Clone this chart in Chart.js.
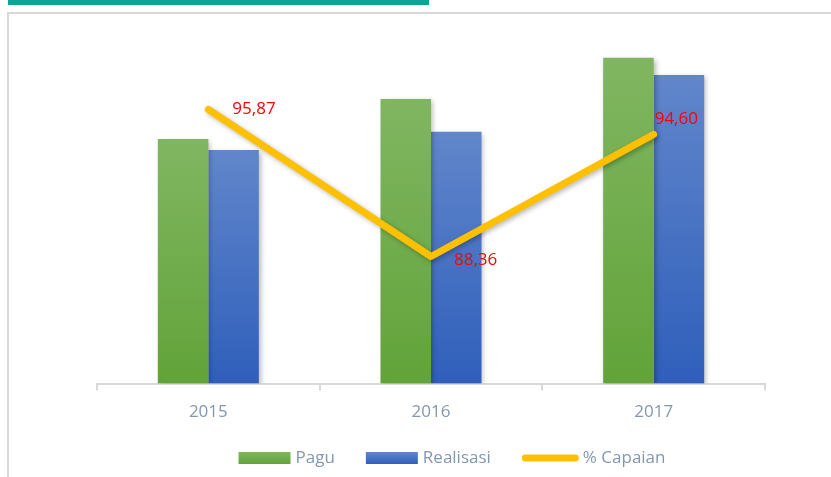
<!DOCTYPE html>
<html>
<head>
<meta charset="utf-8">
<script src="https://cdn.jsdelivr.net/npm/chart.js@4.4.1/dist/chart.umd.min.js"></script>
<style>
  html, body { margin: 0; padding: 0; background: #fff; overflow: hidden; }
  #wrap { position: relative; width: 831px; height: 477px; overflow: hidden; }
  #topbar { position: absolute; left: 8px; top: 0; width: 421px; height: 5px; background: #0ca494; }
  #frame { position: absolute; left: 7px; top: 12px; width: 900px; height: 600px; border: 2px solid #d9d9d9; }
  canvas { position: absolute; left: 0; top: 0; }
</style>
</head>
<body>
<div id="wrap">
  <div id="topbar"></div>
  <div id="frame"></div>
  <canvas id="chart" width="831" height="477" style="width:831px;height:477px"></canvas>
</div>
<script>
const years = ["2015", "2016", "2017"];
const pagu = [7.12, 8.28, 9.48];
const realisasi = [6.80, 7.33, 8.98];
const capaian = [95.87, 88.36, 94.60];

// label offsets from each line point (px): [dx, dy]
const labelOffsets = [[24, 0], [23, 4], [1, -15]];

const textColor = "#8497b0";
const fontFamily = "'Open Sans', 'Noto Sans', sans-serif";

function barFill(top, bottom) {
    return function (c) {
        const chart = c.chart;
        if (!chart.chartArea || c.type !== "data" || !chart.scales.y) return bottom;
        const y = chart.scales.y;
        const g = chart.ctx.createLinearGradient(0, y.getPixelForValue(c.raw), 0, y.getPixelForValue(0));
        g.addColorStop(0, top);
        g.addColorStop(1, bottom);
        return g;
    };
}

const shadowPlugin = {
    id: "shadow",
    beforeDatasetDraw(chart) {
        const c = chart.ctx;
        c.save();
        c.shadowColor = "rgba(0,0,0,0.28)";
        c.shadowBlur = 5;
        c.shadowOffsetX = 2;
        c.shadowOffsetY = 2;
    },
    afterDatasetDraw(chart) {
        chart.ctx.restore();
    }
};

const valueLabels = {
    id: "valueLabels",
    afterDatasetsDraw(chart) {
        const c = chart.ctx;
        const meta = chart.getDatasetMeta(2);
        c.save();
        c.font = "17px " + fontFamily;
        c.fillStyle = "#ff0000";
        c.textBaseline = "middle";
        c.textAlign = "left";
        meta.data.forEach((pt, i) => {
            const txt = capaian[i].toFixed(2).replace(".", ",");
            c.fillText(txt, pt.x + labelOffsets[i][0], pt.y + labelOffsets[i][1]);
        });
        c.restore();
    }
};

const customLegend = {
    id: "customLegend",
    afterDraw(chart) {
        const c = chart.ctx;
        c.save();
        c.font = "17px " + fontFamily;
        c.textBaseline = "middle";
        const y = 458;
        const items = chart.data.datasets.map(ds => ({
            label: ds.label,
            isLine: ds.type === "line",
            color: ds.legendColor
        }));
        const boxW = 52, lineW = 57, gap = 31;
        let total = 0;
        items.forEach((it, i) => {
            total += (it.isLine ? lineW + 4 : boxW + 5) + c.measureText(it.label).width;
            if (i < items.length - 1) total += gap;
        });
        let x = 452 - total / 2;
        items.forEach(it => {
            if (it.isLine) {
                c.strokeStyle = it.color;
                c.lineWidth = 7;
                c.lineCap = "round";
                c.beginPath();
                c.moveTo(x + 3.5, y);
                c.lineTo(x + lineW - 3.5, y);
                c.stroke();
                x += lineW + 4;
            } else {
                const g = c.createLinearGradient(0, y - 6, 0, y + 6);
                g.addColorStop(0, it.color[0]);
                g.addColorStop(1, it.color[1]);
                c.fillStyle = g;
                c.fillRect(x, y - 6, boxW, 12);
                x += boxW + 5;
            }
            c.fillStyle = textColor;
            c.fillText(it.label, x, y);
            x += c.measureText(it.label).width + gap;
        });
        c.restore();
    }
};

const ctx = document.getElementById("chart").getContext("2d");

new Chart(ctx, {
    type: "bar",
    data: {
        labels: years,
        datasets: [{
            label: "Pagu",
            data: pagu,
            backgroundColor: barFill("#80b661", "#62a339"),
            legendColor: ["#80b661", "#62a339"],
            yAxisID: "y",
            order: 2
        }, {
            label: "Realisasi",
            data: realisasi,
            backgroundColor: barFill("#6186cb", "#2f5fbb"),
            legendColor: ["#6186cb", "#2f5fbb"],
            yAxisID: "y",
            order: 2
        }, {
            type: "line",
            label: "% Capaian",
            data: capaian,
            borderColor: "#ffc000",
            legendColor: "#ffc000",
            borderWidth: 7,
            borderCapStyle: "round",
            borderJoinStyle: "round",
            pointRadius: 0,
            tension: 0,
            yAxisID: "y1",
            order: 1
        }]
    },
    options: {
        responsive: false,
        animation: false,
        layout: {
            padding: { left: 97, right: 66, top: 40, bottom: 44 }
        },
        categoryPercentage: 0.4535,
        barPercentage: 1.0,
        plugins: {
            legend: { display: false },
            tooltip: { enabled: false }
        },
        scales: {
            x: {
                grid: {
                    offset: true,
                    drawOnChartArea: false,
                    color: "#d9d9d9",
                    lineWidth: 2,
                    tickLength: 7
                },
                border: { color: "#d9d9d9", width: 2 },
                ticks: {
                    color: textColor,
                    padding: 11,
                    font: { family: fontFamily, size: 17 }
                }
            },
            y: {
                display: false,
                min: 0,
                max: 10
            },
            y1: {
                display: false,
                position: "right",
                min: 81.87,
                max: 99.42
            }
        }
    },
    plugins: [shadowPlugin, valueLabels, customLegend]
});
</script>
</body>
</html>
